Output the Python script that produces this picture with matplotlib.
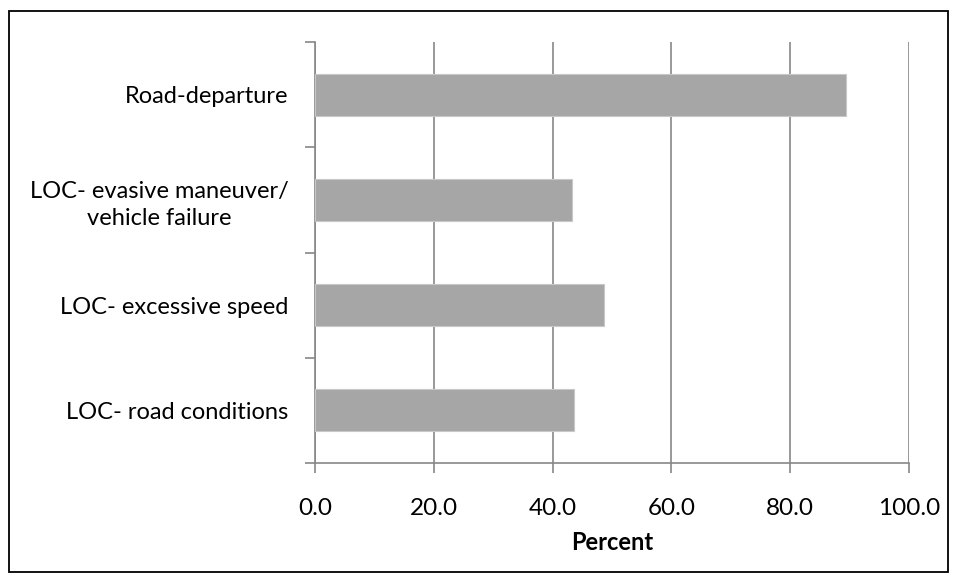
import matplotlib
matplotlib.use("Agg")
import matplotlib.pyplot as plt
from matplotlib.patches import Rectangle
import numpy as np

categories = ["LOC- road conditions", "LOC- excessive speed",
              "LOC- evasive maneuver/\nvehicle failure", "Road-departure"]
values = [43.6, 48.7, 43.3, 89.4]
xticks = [0, 20, 40, 60, 80, 100]

plt.rcParams['font.family'] = ['Lato', 'DejaVu Sans']

W, H = 958, 582
fig = plt.figure(figsize=(W/100, H/100), dpi=100)
ax = fig.add_axes([315/W, 1-463/H, (909-315)/W, (463-42)/H])

grid_c = "#878787"
y = np.arange(len(categories))
ax.barh(y, values, height=0.4, color="#A6A6A6", edgecolor="#C8C8C8", linewidth=0.8, zorder=3)

ax.set_xlim(0, 100)
ax.set_ylim(-0.5, len(categories)-0.5)
ax.set_xticks(xticks)
ax.set_xticklabels([f"{v:.1f}" for v in xticks], fontsize=17.5)
ax.set_yticks(np.arange(-0.5, len(categories), 1.0))
ax.set_yticklabels([])
ax.set_yticks(y, minor=True)
ax.set_yticklabels(categories, minor=True, fontsize=17, ha='right',
                   multialignment='center', linespacing=1.35)
ax.tick_params(axis='y', which='minor', length=0, pad=19)
ax.tick_params(axis='y', which='major', length=7, color=grid_c, width=1.2)
ax.tick_params(axis='x', length=7, color=grid_c, width=1.2, pad=18)

ax.grid(axis='x', color=grid_c, linewidth=1.2, zorder=0)
for s in ['top', 'right']:
    ax.spines[s].set_visible(False)
for s in ['left', 'bottom']:
    ax.spines[s].set_color(grid_c)
    ax.spines[s].set_linewidth(1.2)

ax.set_xlabel("Percent", fontsize=17, fontweight='bold', labelpad=9)

fig.patches.append(Rectangle((9/W, 1-572/H), (948-9)/W, (572-11)/H,
                             transform=fig.transFigure, fill=False,
                             edgecolor='black', linewidth=1.3))

fig.savefig("out.png", dpi=100)
